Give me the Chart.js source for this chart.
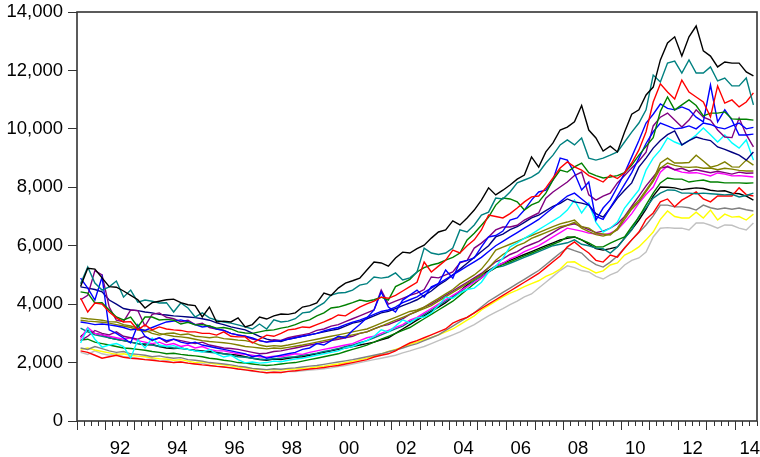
<!DOCTYPE html>
<html lang="en">
<head>
<meta charset="UTF-8">
<title>Quarterly series</title>
<style>
  body { margin: 0; background: #fff; }
  #wrap { width: 760px; height: 457px; }
</style>
</head>
<body>
<div id="wrap"><canvas id="myChart" width="760" height="457"></canvas></div>

<script src="https://cdn.jsdelivr.net/npm/chart.js@4.4.1/dist/chart.umd.min.js"></script>
<script>
// quarterly observations 1991Q1 .. 2014Q3
const years = [1991, 1992, 1993, 1994, 1995, 1996, 1997, 1998, 1999, 2000, 2001, 2002,
               2003, 2004, 2005, 2006, 2007, 2008, 2009, 2010, 2011, 2012, 2013, 2014]
const lastQuarter = 3
const xLabelYears = [1992, 1994, 1996, 1998, 2000, 2002, 2004, 2006, 2008, 2010, 2012, 2014]
const yTicks = [0, 2000, 4000, 6000, 8000, 10000, 12000, 14000]

const blackA = [
  4600, 5230, 5200, 4900, 4600, 4580, 4450, 4300, 4150, 3870, 4050, 4100, 4150, 4170, 4050, 3980,
  3950, 3560, 3900, 3390, 3420, 3390, 3530, 3220, 3300, 3560, 3490, 3600, 3660, 3650, 3700, 3900,
  3950, 4040, 4380, 4300, 4550, 4720, 4800, 4890, 5170, 5440, 5410, 5300, 5580, 5780, 5750, 5900,
  6020, 6260, 6470, 6540, 6850, 6710, 6950, 7220, 7560, 7980, 7740, 7900, 8080, 8280, 8420, 9040,
  8690, 9210, 9520, 9960, 10060, 10240, 10800, 9960, 9690, 9240, 9410, 9210, 9890, 10500, 10650, 11160,
  11430, 12360, 12940, 13150, 12490, 13150, 13520, 12670, 12490, 12120, 12290, 12250, 12250, 11950, 11810]
const tealA = [
  4700, 5270, 4720, 4480, 4590, 4790, 4240, 4480, 4070, 4140, 4100, 4040, 4050, 3730, 4040, 3870,
  3560, 3700, 3530, 3450, 3390, 3350, 3290, 3220, 3150, 3320, 3150, 3460, 3390, 3420, 3500, 3700,
  3730, 3900, 4040, 4310, 4380, 4400, 4480, 4650, 4700, 4930, 4890, 4930, 5070, 4830, 4900, 5100,
  5920, 5750, 5700, 5750, 5920, 6540, 6470, 6710, 7050, 7150, 7630, 7600, 7840, 8150, 8250, 8350,
  8500, 8830, 9100, 9450, 9620, 9450, 9690, 9000, 8930, 9000, 9100, 9210, 9550, 9890, 10200, 10650,
  11840, 11600, 12250, 12320, 11910, 12360, 11910, 11910, 12120, 11640, 11740, 11470, 11470, 11740, 10820]
const redA = [
  4210, 3730, 4040, 4000, 3730, 3530, 3390, 3400, 3120, 3290, 3120, 3220, 3150, 3120, 3100, 3050,
  3050, 3000, 3000, 2940, 3050, 2900, 2880, 2880, 2670, 2800, 2940, 2900, 3000, 3120, 3150, 3220,
  3200, 3300, 3390, 3500, 3630, 3600, 3750, 3900, 4010, 4100, 4240, 4200, 4300, 4450, 4600, 4750,
  5440, 5100, 5300, 5500, 5850, 5750, 6000, 6200, 6540, 7050, 7000, 6950, 7100, 7290, 7500, 7670,
  7700, 7980, 8320, 8660, 8870, 8700, 8590, 8400, 8300, 8180, 8420, 8300, 8500, 8830, 9280, 9900,
  10920, 11540, 11260, 11020, 11670, 11260, 11090, 10920, 10410, 11470, 10880, 10990, 10750, 10920, 11230]
const greenA = [
  4420, 4380, 4040, 4050, 3800, 3560, 3460, 3560, 3220, 3560, 3560, 3460, 3480, 3450, 3320, 3380,
  3290, 3300, 3250, 3180, 3200, 3150, 3050, 3010, 3000, 3050, 3100, 3120, 3180, 3220, 3300, 3400,
  3460, 3600, 3700, 3870, 3900, 3970, 4050, 4140, 4100, 4150, 4240, 4140, 4600, 4720, 4850, 5100,
  5250, 5340, 5400, 5510, 5600, 5750, 6200, 6430, 6700, 6980, 7390, 7630, 7600, 7500, 7220, 7400,
  7500, 7800, 8250, 8590, 8520, 8700, 8830, 8500, 8400, 8320, 8350, 8400, 8500, 8760, 9100, 9400,
  9700, 10600, 11090, 10650, 10820, 10990, 10800, 10440, 10540, 10540, 10580, 10340, 10330, 10330, 10300]
const blueA = [
  4890, 4550, 4140, 4930, 3120, 3000, 2840, 2670, 3290, 2900, 2770, 2850, 2750, 2800, 2700, 2650,
  2700, 2600, 2550, 2500, 2450, 2400, 2350, 2300, 2200, 2250, 2150, 2200, 2250, 2300, 2350, 2450,
  2500, 2650, 2600, 2750, 2900, 2850, 3100, 3300, 3530, 3800, 4420, 3900, 3730, 4140, 4310, 4480,
  4240, 4590, 4700, 5170, 4890, 5440, 5500, 5580, 5960, 6300, 6350, 6500, 6880, 6950, 7220, 7560,
  7840, 7900, 8250, 9000, 8930, 8490, 7910, 8180, 6880, 7290, 7560, 8010, 8490, 9040, 9600, 10200,
  10500, 10850, 10700, 10650, 10750, 10650, 10400, 10240, 11500, 10240, 10650, 10300, 9790, 9790, 9820]
const purpleA = [
  4150, 4300, 5150, 5000, 3900, 3450, 3400, 3800, 3780, 3250, 3650, 3700, 3550, 3500, 3400, 3450,
  3300, 3350, 3200, 3150, 3100, 3000, 2950, 2900, 2800, 2750, 2700, 2780, 2760, 2850, 2900, 2950,
  3000, 3100, 3150, 3250, 3300, 3400, 3500, 3600, 3700, 3800, 4480, 4000, 4100, 4200, 4300, 4380,
  4500, 4930, 4900, 5000, 5100, 5410, 5500, 5920, 6090, 6300, 6540, 6640, 6640, 6700, 6880, 7000,
  7120, 7630, 7840, 8010, 8180, 8400, 8520, 7740, 7560, 7700, 7800, 8150, 8400, 8660, 8900, 9200,
  10100, 10400, 10540, 10300, 10060, 10300, 10650, 10400, 10300, 9960, 9720, 9700, 10370, 9800, 9380]
const navy = [
  4590, 4550, 4500, 4420, 4140, 4000, 3850, 3800, 3780, 3730, 3700, 3650, 3630, 3600, 3580, 3560,
  3540, 3500, 3450, 3360, 3300, 3220, 3170, 3120, 3010, 2900, 2800, 2750, 2720, 2800, 2850, 2900,
  2950, 3000, 3050, 3100, 3150, 3250, 3350, 3400, 3500, 3600, 3700, 3750, 3850, 3950, 4040, 4150,
  4300, 4450, 4650, 4800, 5000, 5200, 5400, 5600, 5800, 6000, 6300, 6400, 6550, 6650, 6800, 6950,
  7050, 7200, 7350, 7450, 7600, 7500, 7460, 7390, 7100, 6980, 7290, 7630, 7900, 8150, 8690, 9000,
  9340, 9600, 9800, 9930, 9450, 9600, 9720, 9650, 9600, 9380, 9300, 9200, 9100, 8930, 9210]
const cyan = [
  2670, 3180, 2800, 2530, 2600, 2650, 2550, 2160, 2770, 2500, 2840, 2600, 2550, 2580, 2500, 2450,
  2400, 2360, 2450, 2300, 2190, 2250, 2100, 1990, 2020, 1980, 2000, 2050, 2030, 2080, 2120, 2150,
  2200, 2250, 2300, 2350, 2400, 2500, 2550, 2650, 2750, 2900, 3120, 3050, 3250, 3460, 3360, 3530,
  3560, 3700, 3950, 4240, 4200, 4380, 4500, 4550, 4750, 5100, 5300, 5580, 5960, 6100, 6250, 6400,
  6550, 6700, 6850, 7000, 7220, 7560, 7120, 7460, 6800, 6470, 6600, 6810, 7290, 7600, 7910, 8590,
  9000, 9280, 9690, 9550, 9450, 9600, 9790, 10030, 9800, 9550, 9790, 9520, 9340, 9620, 8930]
const oliveA = [
  3530, 3500, 3480, 3450, 3400, 3390, 3300, 3250, 3180, 3100, 3000, 2940, 3000, 3010, 2950, 2980,
  2900, 2880, 2850, 2880, 2820, 2800, 2770, 2750, 2700, 2600, 2550, 2580, 2560, 2600, 2650, 2700,
  2750, 2800, 2850, 2900, 2950, 3000, 3050, 3100, 3150, 3250, 3350, 3450, 3550, 3650, 3750, 3800,
  3900, 4050, 4200, 4350, 4500, 4700, 4850, 5000, 5200, 5500, 5850, 5950, 6050, 6150, 6250, 6350,
  6450, 6550, 6650, 6750, 6810, 6880, 6650, 6600, 6430, 6400, 6370, 6600, 6980, 7300, 7560, 7900,
  8250, 8830, 9000, 8830, 8830, 8850, 9100, 8900, 8690, 8750, 8870, 8700, 8690, 8930, 8760]
const oliveB = [
  3450, 3420, 3400, 3380, 3350, 3300, 3250, 3200, 3120, 3050, 3100, 3000, 2950, 2900, 2880, 2850,
  2800, 2750, 2720, 2700, 2680, 2650, 2600, 2550, 2530, 2500, 2470, 2500, 2480, 2520, 2560, 2600,
  2650, 2700, 2750, 2800, 2850, 2900, 2950, 3000, 3050, 3150, 3250, 3350, 3450, 3550, 3650, 3750,
  3850, 3950, 4100, 4250, 4400, 4550, 4700, 4850, 5000, 5250, 5500, 5700, 5850, 6000, 6100, 6250,
  6350, 6450, 6550, 6650, 6700, 6800, 6600, 6480, 6380, 6330, 6400, 6550, 6900, 7250, 7500, 7850,
  8200, 8650, 8830, 8750, 8700, 8680, 8700, 8650, 8660, 8600, 8650, 8620, 8580, 8560, 8560]
const purpleB = [
  2750, 2900, 3100, 3000, 2950, 3050, 2900, 2850, 2800, 2900, 2750, 2850, 2700, 2800, 2750, 2700,
  2650, 2700, 2600, 2550, 2500, 2480, 2450, 2400, 2350, 2300, 2320, 2380, 2400, 2450, 2500, 2550,
  2600, 2650, 2700, 2750, 2800, 2850, 2900, 3000, 3050, 3150, 3250, 3300, 3400, 3500, 3650, 3750,
  3900, 4000, 4150, 4300, 4450, 4600, 4750, 4900, 5050, 5250, 5450, 5550, 5700, 5800, 5950, 6050,
  6150, 6300, 6450, 6600, 6700, 6750, 6650, 6550, 6450, 6500, 6600, 6750, 7000, 7350, 7700, 8050,
  8350, 8660, 8700, 8600, 8650, 8550, 8600, 8550, 8500, 8550, 8500, 8450, 8520, 8480, 8490]
const magenta = [
  2820, 3200, 3000, 2950, 2900, 2850, 2800, 2850, 2750, 2700, 2650, 2700, 2600, 2650, 2550, 2600,
  2500, 2550, 2450, 2400, 2400, 2350, 2300, 2280, 2250, 2200, 2180, 2220, 2200, 2250, 2300, 2280,
  2350, 2400, 2450, 2500, 2550, 2600, 2650, 2750, 2850, 2900, 3000, 3100, 3200, 3300, 3450, 3550,
  3700, 3850, 4000, 4150, 4300, 4450, 4600, 4750, 4900, 5100, 5300, 5400, 5550, 5650, 5800, 5900,
  6000, 6150, 6300, 6450, 6600, 6550, 6500, 6430, 6400, 6370, 6430, 6550, 6810, 7100, 7460, 7750,
  8010, 8520, 8730, 8600, 8520, 8490, 8500, 8450, 8390, 8490, 8450, 8390, 8400, 8380, 8350]
const greenB = [
  2770, 2800, 2700, 2650, 2600, 2550, 2500, 2480, 2450, 2420, 2380, 2350, 2300, 2320, 2280, 2250,
  2230, 2200, 2150, 2120, 2080, 2050, 2000, 1980, 1950, 1920, 1900, 1920, 1950, 1980, 2000, 2050,
  2100, 2150, 2200, 2250, 2300, 2380, 2450, 2520, 2600, 2700, 2800, 2900, 3000, 3100, 3200, 3350,
  3500, 3650, 3800, 3950, 4100, 4300, 4500, 4700, 4900, 5100, 5250, 5350, 5450, 5550, 5650, 5750,
  5850, 5950, 6050, 6150, 6300, 6300, 6200, 6100, 5960, 5960, 6090, 6200, 6300, 6650, 6980, 7400,
  7800, 8150, 8320, 8280, 8280, 8180, 8220, 8250, 8180, 8180, 8150, 8150, 8150, 8140, 8150]
const tealB = [
  3180, 3050, 2950, 2900, 2850, 2800, 2750, 2700, 2650, 2650, 2600, 2550, 2550, 2500, 2480, 2450,
  2400, 2380, 2350, 2330, 2300, 2250, 2200, 2180, 2150, 2120, 2100, 2130, 2150, 2180, 2200, 2250,
  2280, 2320, 2380, 2420, 2480, 2550, 2600, 2680, 2750, 2850, 2950, 3050, 3150, 3250, 3400, 3500,
  3650, 3800, 3950, 4100, 4250, 4400, 4600, 4800, 4950, 5100, 5250, 5300, 5400, 5500, 5600, 5700,
  5800, 5900, 6000, 6050, 6100, 6200, 6050, 6000, 5920, 5900, 5750, 5960, 6250, 6540, 7000, 7300,
  7630, 7800, 7910, 7900, 7800, 7800, 7780, 7800, 7780, 7760, 7740, 7760, 7670, 7720, 7800]
const redB = [
  2400, 2350, 2250, 2150, 2200, 2250, 2180, 2150, 2130, 2100, 2080, 2050, 2030, 2000, 2020, 1980,
  1950, 1920, 1900, 1870, 1850, 1820, 1780, 1750, 1720, 1680, 1650, 1670, 1660, 1700, 1720, 1750,
  1780, 1800, 1830, 1870, 1900, 1950, 2000, 2050, 2100, 2190, 2250, 2300, 2400, 2550, 2670, 2750,
  2850, 2950, 3050, 3150, 3350, 3460, 3550, 3700, 3850, 4000, 4150, 4300, 4450, 4600, 4750, 4900,
  5050, 5250, 5450, 5650, 5960, 6130, 5920, 5750, 5500, 5440, 5680, 5610, 5920, 6200, 6470, 6900,
  7120, 7500, 7600, 7330, 7560, 7700, 7840, 7600, 7500, 7700, 7700, 7700, 7980, 7750, 7700]
const blackB = [
  2880, 3100, 3000, 2950, 2850, 2800, 2750, 2700, 2650, 2600, 2620, 2550, 2500, 2480, 2500, 2450,
  2420, 2400, 2380, 2350, 2300, 2280, 2250, 2200, 2150, 2100, 2080, 2120, 2100, 2150, 2180, 2200,
  2250, 2300, 2350, 2400, 2450, 2500, 2550, 2600, 2650, 2700, 2780, 2850, 3000, 3150, 3300, 3450,
  3600, 3750, 3900, 4050, 4250, 4450, 4650, 4850, 5000, 5150, 5300, 5400, 5500, 5600, 5700, 5800,
  5900, 6000, 6100, 6200, 6250, 6300, 6200, 6050, 5900, 5850, 5900, 5960, 6260, 6550, 6880, 7250,
  7700, 8010, 8000, 7980, 7920, 7950, 7980, 7960, 7900, 7870, 7880, 7800, 7780, 7700, 7560]
const gray = [
  2500, 2450, 2550, 2480, 2400, 2350, 2380, 2300, 2280, 2250, 2200, 2230, 2180, 2150, 2170, 2100,
  2080, 2050, 2000, 1980, 1950, 1920, 1880, 1850, 1800, 1780, 1760, 1790, 1770, 1800, 1820, 1850,
  1880, 1900, 1940, 1980, 2020, 2060, 2100, 2150, 2200, 2250, 2300, 2370, 2430, 2500, 2580, 2650,
  2750, 2850, 2950, 3100, 3250, 3400, 3550, 3700, 3900, 4100, 4250, 4400, 4550, 4700, 4850, 5000,
  5150, 5350, 5550, 5750, 5920, 5830, 5750, 5510, 5350, 5270, 5440, 5650, 5920, 6200, 6450, 6710,
  7020, 7390, 7390, 7330, 7330, 7300, 7220, 7390, 7300, 7250, 7290, 7250, 7290, 7230, 7190]
const yellow = [
  2450, 2500, 2430, 2380, 2330, 2280, 2300, 2250, 2220, 2200, 2160, 2130, 2120, 2080, 2100, 2050,
  2000, 2030, 1980, 1950, 1920, 1880, 1850, 1820, 1790, 1760, 1740, 1760, 1740, 1770, 1780, 1800,
  1820, 1850, 1880, 1920, 1950, 2000, 2050, 2100, 2150, 2220, 2300, 2380, 2450, 2530, 2620, 2700,
  2780, 2860, 2950, 3050, 3150, 3300, 3450, 3600, 3800, 3950, 4100, 4250, 4380, 4480, 4600, 4700,
  4800, 4950, 5050, 5200, 5440, 5450, 5300, 5200, 5070, 5140, 5340, 5410, 5680, 5800, 5960, 6200,
  6470, 6900, 7190, 7000, 6950, 6950, 7150, 6950, 7220, 6880, 7080, 6980, 7000, 6880, 7080]
const silver = [
  2350, 2280, 2400, 2300, 2250, 2300, 2200, 2180, 2150, 2100, 2130, 2050, 2080, 2000, 2030, 1980,
  1950, 1980, 1900, 1880, 1850, 1820, 1780, 1750, 1700, 1680, 1650, 1680, 1660, 1700, 1690, 1720,
  1740, 1760, 1790, 1820, 1860, 1900, 1950, 2000, 2050, 2100, 2150, 2200, 2250, 2330, 2400, 2480,
  2550, 2650, 2750, 2850, 2950, 3050, 3180, 3300, 3450, 3600, 3730, 3850, 3980, 4100, 4250, 4350,
  4550, 4750, 4950, 5150, 5310, 5250, 5150, 5100, 4950, 4860, 5000, 5100, 5340, 5500, 5580, 5780,
  6300, 6600, 6620, 6600, 6600, 6540, 6780, 6780, 6700, 6600, 6710, 6700, 6600, 6540, 6780]
const blueB = [
  3390, 3350, 3300, 3320, 3290, 3250, 3200, 3120, 3150, 3100, 3200, 3300, 3390, 3420, 3460, 3400,
  3300, 3220, 3250, 3150, 3100, 3000, 2940, 2900, 2840, 2750, 2700, 2730, 2750, 2800, 2850, 2900,
  2950, 3000, 3080, 3150, 3200, 3300, 3380, 3450, 3550, 3650, 3750, 3800, 3900, 4050, 4150, 4250,
  4400, 4550, 4700, 4850, 5000, 5150, 5300, 5450, 5600, 5800, 6000, 6150, 6300, 6450, 6600, 6750,
  6900, 7100, 7300, 7500, 7700, 7800, 7600, 7400, 7000, 6900, 7300, 7700, 8100, 8500, 9000, 9500,
  9900, 10200, 10100, 10000, 10030, 10100, 10000, 10200, 10150, 10050, 10000, 10100, 10200, 10000, 10050]

const series = [
  [blackA, '#000000'], [tealA, '#008080'], [redA, '#ff0000'], [greenA, '#008000'],
  [blueA, '#0000ff'], [blueB, '#0000ff'], [purpleA, '#800080'], [navy, '#000080'],
  [cyan, '#00ffff'], [oliveA, '#808000'], [oliveB, '#808000'], [purpleB, '#800080'],
  [magenta, '#ff00ff'], [greenB, '#008000'], [tealB, '#008080'], [redB, '#ff0000'],
  [blackB, '#000000'], [gray, '#808080'], [yellow, '#ffff00'], [silver, '#c0c0c0']
]

// x position of each quarter = middle of the quarter
const quarters = []
years.forEach(y => {
  for (let q = 1; q <= 4; q++) {
    if (y === years[years.length - 1] && q > lastQuarter) break
    quarters.push(y + (q - 0.5) / 4)
  }
})

Chart.defaults.font.family = '"Liberation Sans", Arial, sans-serif'
Chart.defaults.font.size = 18.5
Chart.defaults.color = '#000'

const frame = {
  id: 'frame',
  afterDatasetsDraw(chart) {
    const { ctx, chartArea: a } = chart
    ctx.save()
    ctx.strokeStyle = '#333'
    ctx.lineWidth = 1.6
    ctx.strokeRect(a.left, a.top, a.right - a.left, a.bottom - a.top)
    ctx.restore()
  }
}

const ctx = document.getElementById('myChart').getContext('2d')
const myChart = new Chart(ctx, {
  type: 'line',
  data: {
    labels: quarters,
    datasets: series.map(([d, c]) => ({
      data: d,
      borderColor: c,
      borderWidth: 1.4,
      pointRadius: 0,
      tension: 0,
      fill: false
    }))
  },
  options: {
    responsive: false,
    animation: false,
    events: [],
    layout: { padding: { top: 12, right: 3, left: 0, bottom: 0 } },
    plugins: { legend: { display: false }, tooltip: { enabled: false } },
    scales: {
      xq: {
        type: 'linear', position: 'bottom', weight: 0,
        min: 1991, max: 2014.75,
        ticks: { stepSize: 0.25, display: false, includeBounds: false },
        grid: { drawOnChartArea: false, tickLength: 5, tickColor: '#333' },
        border: { display: false },
        afterFit: s => { s.height = 0 }
      },
      x: {
        type: 'linear', position: 'bottom', weight: 1,
        min: 1991, max: 2014.75,
        ticks: {
          stepSize: 1, includeBounds: false, autoSkip: false, maxRotation: 0,
          labelOffset: 14.3, padding: 8,
          callback: v => xLabelYears.includes(v) ? String(v).slice(2) : ''
        },
        grid: { drawOnChartArea: false, tickLength: 9, tickColor: '#333' },
        border: { display: false },
        afterFit: s => { s.height = 36 }
      },
      y: {
        min: yTicks[0], max: yTicks[yTicks.length - 1],
        afterBuildTicks: s => { s.ticks = yTicks.map(v => ({ value: v })) },
        ticks: { padding: 5, callback: v => v.toLocaleString('en-US') },
        grid: { drawOnChartArea: false, tickLength: 9, tickColor: '#333' },
        border: { display: false },
        afterFit: s => { s.width = 77; s.paddingTop = 0; s.paddingBottom = 0 }
      }
    }
  },
  plugins: [frame]
})
</script>
</body>
</html>
